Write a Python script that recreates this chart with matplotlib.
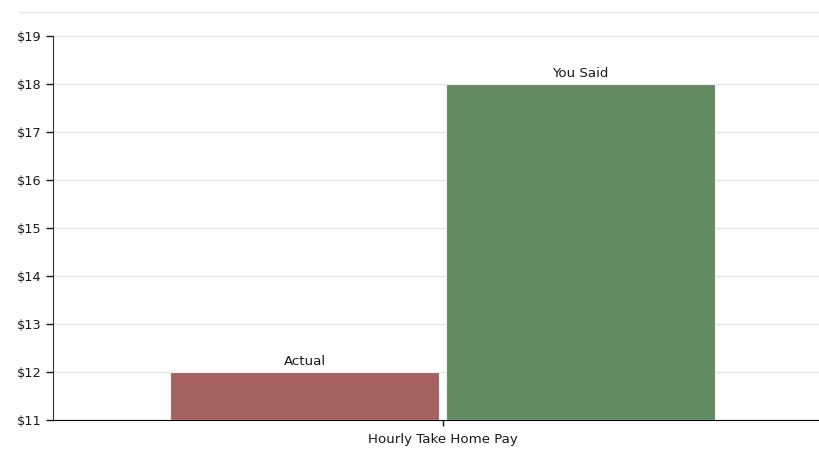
import matplotlib.pyplot as plt
from matplotlib.lines import Line2D

category = "Hourly Take Home Pay"
series = ["Actual", "You Said"]
values = [12, 18]
colors = ["#a56260", "#628b62"]
yticks = [11, 12, 13, 14, 15, 16, 17, 18, 19]

fig = plt.figure(figsize=(8.19, 4.5), dpi=100)
ax = fig.add_axes([53 / 819, 30 / 450, 766 / 819, 408 / 450])

width = 0.35
offsets = [-0.1795, 0.1795]
base = 11
for name, val, col, off in zip(series, values, colors, offsets):
    ax.bar(off, val - base, bottom=base, width=width, color=col,
           edgecolor="#f2f2f2", linewidth=0.8, zorder=3)
    ax.annotate(name, (off, val), xytext=(0, 3), textcoords="offset points",
                ha="center", va="bottom", fontsize=9.6, color="#1a1a1a")

ax.set_ylim(11, 19.5)
ax.set_xlim(-0.507, 0.49)
ax.set_yticks(yticks)
ax.set_yticklabels([f"${v}" for v in yticks])
ax.set_xticks([0])
ax.set_xticklabels([category])

ax.grid(axis="y", color="#e3e3e3", linewidth=1, zorder=0)
ax.set_axisbelow(True)
for s in ["top", "right"]:
    ax.spines[s].set_visible(False)
ax.spines["left"].set_bounds(11, 19)
ax.spines["left"].set_color("#333333")
ax.spines["bottom"].set_color("#000000")
ax.tick_params(axis="y", labelsize=9.3, colors="#1a1a1a", length=5, width=1)
ax.tick_params(axis="x", labelsize=9.6, colors="#1a1a1a", length=4, width=1, pad=5)

# faint top border line
fig.add_artist(Line2D([19 / 819, 1.0], [1 - 12 / 450, 1 - 12 / 450],
                      color="#e6e6e6", linewidth=1))

fig.savefig("out.png", dpi=100)
